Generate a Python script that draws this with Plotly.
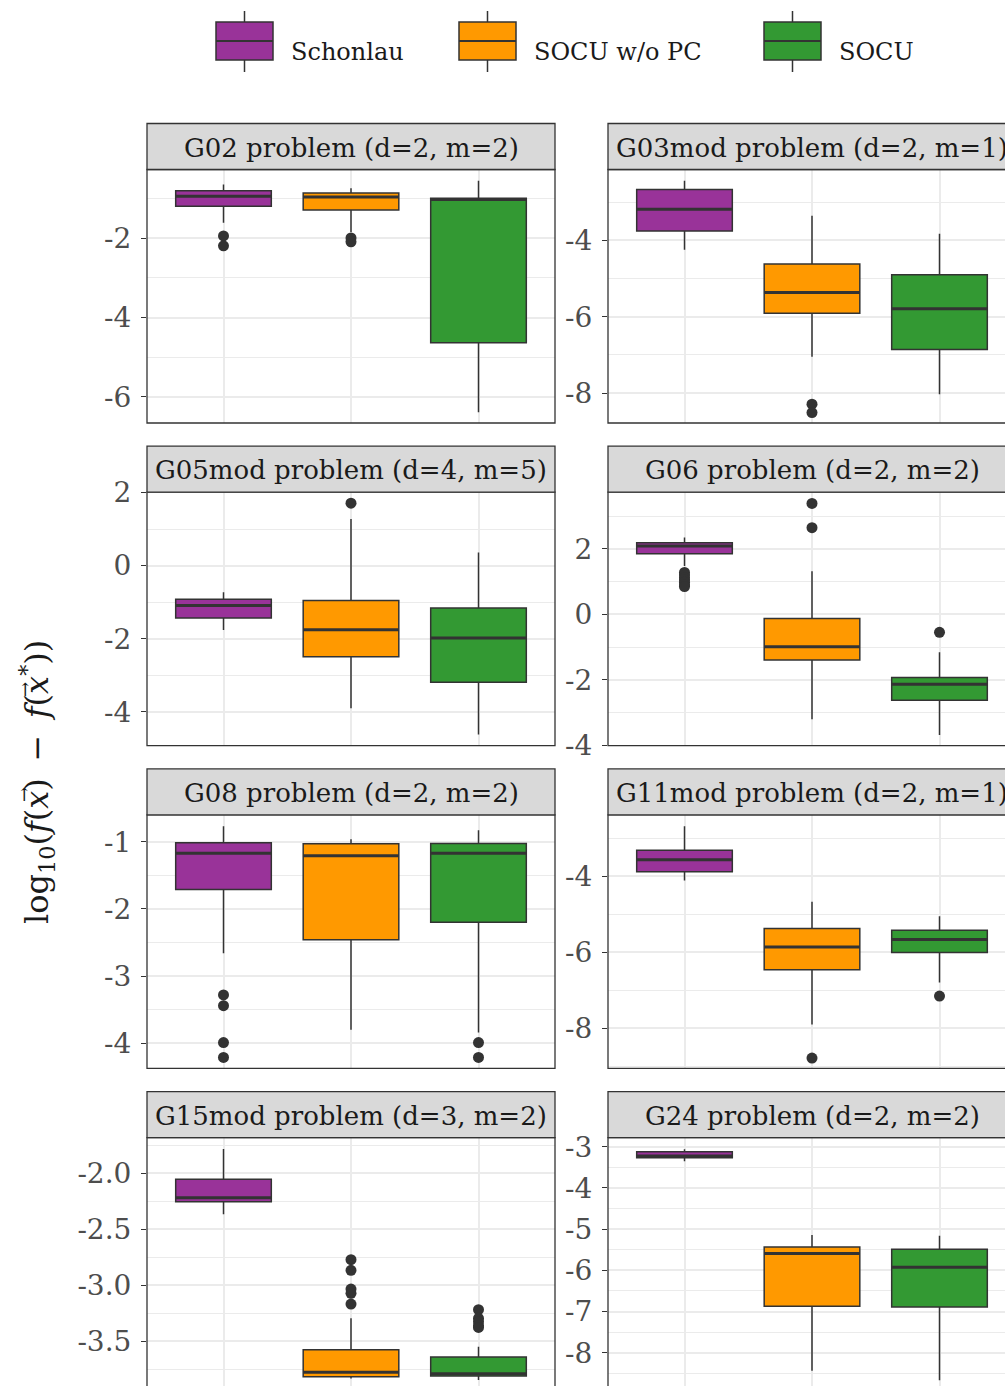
import plotly.graph_objects as go

# ---------------- data ----------------
METHODS = ["Schonlau", "SOCU w/o PC", "SOCU"]
COLORS = ["#993399", "#FF9900", "#339933"]

PROBLEMS = [
    "G02 problem (d=2, m=2)",
    "G03mod problem (d=2, m=1)",
    "G05mod problem (d=4, m=5)",
    "G06 problem (d=2, m=2)",
    "G08 problem (d=2, m=2)",
    "G11mod problem (d=2, m=1)",
    "G15mod problem (d=3, m=2)",
    "G24 problem (d=2, m=2)",
]

# per problem: [Schonlau, SOCU w/o PC, SOCU]
LOWER = [
    [-1.61, -1.84, -6.39],
    [-4.25, -7.05, -8.03],
    [-1.76, -3.90, -4.62],
    [1.48, -3.21, -3.69],
    [-2.66, -3.80, -3.84],
    [-4.12, -7.91, -6.80],
    [-2.367, -3.834, -3.849],
    [-3.354, -8.437, -8.67],
]
Q1 = [
    [-1.19, -1.285, -4.64],
    [-3.76, -5.91, -6.86],
    [-1.43, -2.49, -3.19],
    [1.85, -1.40, -2.63],
    [-1.71, -2.46, -2.20],
    [-3.89, -6.47, -6.01],
    [-2.254, -3.82, -3.813],
    [-3.267, -6.874, -6.89],
]
MEDIAN = [
    [-0.94, -0.957, -1.02],
    [-3.19, -5.37, -5.79],
    [-1.09, -1.75, -1.98],
    [2.09, -0.99, -2.14],
    [-1.17, -1.21, -1.17],
    [-3.57, -5.87, -5.67],
    [-2.218, -3.78, -3.793],
    [-3.226, -5.59, -5.927],
]
Q3 = [
    [-0.80, -0.856, -0.99],
    [-2.67, -4.62, -4.90],
    [-0.92, -0.95, -1.16],
    [2.19, -0.13, -1.93],
    [-1.015, -1.03, -1.025],
    [-3.32, -5.38, -5.43],
    [-2.054, -3.578, -3.643],
    [-3.12, -5.435, -5.49],
]
UPPER = [
    [-0.64, -0.737, -0.545],
    [-2.44, -3.36, -3.83],
    [-0.73, 1.28, 0.36],
    [2.35, 1.32, -1.16],
    [-0.77, -0.965, -0.83],
    [-2.69, -4.68, -5.06],
    [-1.783, -3.297, -3.551],
    [-3.063, -5.143, -5.16],
]
OUTLIERS = [
    [[-1.94, -2.19], [-1.99, -2.09], []],
    [[], [-8.29, -8.51], []],
    [[], [1.71], []],
    [[1.28, 1.20, 1.12, 1.05, 0.98, 0.90, 0.85], [3.39, 2.65], [-0.55]],
    [[-3.28, -3.44, -3.99, -4.21], [], [-3.99, -4.21]],
    [[], [-8.79], [-7.16]],
    [[], [-2.773, -2.868, -3.035, -3.073, -3.169], [-3.22, -3.297, -3.327, -3.363, -3.378]],
    [[], [], []],
]

# axis limits (visible part of each panel) and ticks
Y_RANGE = [
    [-6.664, -0.263],
    [-8.783, -2.147],
    [-4.925, 2.01],
    [-4.018, 3.734],
    [-4.374, -0.601],
    [-9.063, -2.392],
    [-3.902, -1.681],
    [-8.808, -2.779],
]
Y_TICKS = [
    [-6, -4, -2],
    [-8, -6, -4],
    [-4, -2, 0, 2],
    [-4, -2, 0, 2],
    [-4, -3, -2, -1],
    [-8, -6, -4],
    [-3.5, -3.0, -2.5, -2.0],
    [-8, -7, -6, -5, -4, -3],
]
Y_TICKTEXT = [
    ["-6", "-4", "-2"],
    ["-8", "-6", "-4"],
    ["-4", "-2", "0", "2"],
    ["-4", "-2", "0", "2"],
    ["-4", "-3", "-2", "-1"],
    ["-8", "-6", "-4"],
    ["-3.5", "-3.0", "-2.5", "-2.0"],
    ["-8", "-7", "-6", "-5", "-4", "-3"],
]
Y_MINOR = [
    [-5, -3, -1],
    [-7, -5, -3],
    [-3, -1, 1],
    [-3, -1, 1, 3],
    [-3.5, -2.5, -1.5],
    [-9, -7, -5, -3],
    [-3.75, -3.25, -2.75, -2.25, -1.75],
    [-8.5, -7.5, -6.5, -5.5, -4.5, -3.5],
]

# ---------------- layout geometry (px) ----------------
W, H = 1005, 1386
COL_LEFT = [147, 608]
PANEL_W = 408
ROW_STRIP_TOP = [123.5, 446.2, 768.9, 1091.6]
STRIP_H = 46
PANEL_H = 253.5
X_LO, X_HI = 0.4, 3.6
BOX_W = 0.75

SERIF = "DejaVu Serif"
DARK = "#333333"
GRID = "#EBEBEB"


def px_x(p):
    return p / W


def px_y(p):
    return 1 - p / H


fig = go.Figure()
shapes = []
annotations = []
layout_axes = {}

for i, prob in enumerate(PROBLEMS):
    row, col = divmod(i, 2)
    n = i + 1
    xa = "x" if n == 1 else f"x{n}"
    ya = "y" if n == 1 else f"y{n}"
    left = COL_LEFT[col]
    right = left + PANEL_W
    strip_top = ROW_STRIP_TOP[row]
    top = strip_top + STRIP_H
    bottom = top + PANEL_H

    vis_right = min(right, W)
    x_hi = X_LO + (X_HI - X_LO) * (vis_right - left) / PANEL_W
    vis_bottom = min(bottom, H)

    layout_axes["xaxis" if n == 1 else f"xaxis{n}"] = dict(
        domain=[px_x(left), px_x(vis_right)],
        range=[X_LO, x_hi],
        anchor=ya,
        automargin=False,
        tickmode="array",
        tickvals=[1, 2, 3],
        showticklabels=False,
        ticks="",
        showgrid=True,
        gridcolor=GRID,
        gridwidth=1.5,
        zeroline=False,
        showline=False,
    )
    layout_axes["yaxis" if n == 1 else f"yaxis{n}"] = dict(
        domain=[max(0.0, px_y(vis_bottom)), px_y(top)],
        range=Y_RANGE[i],
        anchor=xa,
        automargin=False,
        tickmode="array",
        tickvals=Y_TICKS[i],
        ticktext=Y_TICKTEXT[i],
        ticks="outside",
        ticklen=5,
        tickwidth=1.2,
        tickcolor=DARK,
        ticklabelstandoff=4,
        tickfont=dict(family=SERIF, size=28, color="#4D4D4D"),
        showgrid=True,
        gridcolor=GRID,
        gridwidth=1.5,
        minor=dict(tickmode="array", tickvals=Y_MINOR[i], showgrid=True,
                   gridcolor=GRID, gridwidth=0.8, ticks=""),
        zeroline=False,
        showline=False,
    )

    med_x, med_y, out_x, out_y = [], [], [], []
    for j, m in enumerate(METHODS):
        pos = j + 1
        fig.add_trace(go.Box(
            x=[pos], q1=[Q1[i][j]], median=[MEDIAN[i][j]], q3=[Q3[i][j]],
            lowerfence=[LOWER[i][j]], upperfence=[UPPER[i][j]],
            width=BOX_W, whiskerwidth=0, boxpoints=False,
            fillcolor=COLORS[j], line=dict(color=DARK, width=1.5),
            xaxis=xa, yaxis=ya, showlegend=False, name=m, hoverinfo="skip",
        ))
        med_x += [pos - BOX_W / 2, pos + BOX_W / 2, None]
        med_y += [MEDIAN[i][j], MEDIAN[i][j], None]
        for v in OUTLIERS[i][j]:
            out_x.append(pos)
            out_y.append(v)
    fig.add_trace(go.Scatter(x=med_x, y=med_y, mode="lines",
                             line=dict(color=DARK, width=3), xaxis=xa, yaxis=ya,
                             showlegend=False, hoverinfo="skip"))
    if out_x:
        fig.add_trace(go.Scatter(x=out_x, y=out_y, mode="markers",
                                 marker=dict(color=DARK, size=11), xaxis=xa, yaxis=ya,
                                 showlegend=False, hoverinfo="skip"))

    # panel border
    shapes.append(dict(type="rect", xref="paper", yref="paper",
                       x0=px_x(left), x1=px_x(right), y0=px_y(bottom), y1=px_y(top),
                       line=dict(color=DARK, width=1.3), fillcolor="rgba(0,0,0,0)",
                       layer="above"))
    # strip
    shapes.append(dict(type="rect", xref="paper", yref="paper",
                       x0=px_x(left), x1=px_x(right), y0=px_y(top), y1=px_y(strip_top),
                       line=dict(color=DARK, width=1.3), fillcolor="#D9D9D9",
                       layer="above"))
    annotations.append(dict(text=prob, xref="paper", yref="paper",
                            x=px_x((left + right) / 2), y=px_y(strip_top + STRIP_H / 2 + 1),
                            xanchor="center", yanchor="middle", showarrow=False,
                            font=dict(family=SERIF, size=26, color="#1A1A1A")))

# ---------------- legend (drawn) ----------------
LEG_KEY_X = [216, 459, 764]
LEG_KEY_W = 57
LEG_TOP, LEG_BOT, LEG_MID = 22, 60, 41
LEG_WHISK_TOP, LEG_WHISK_BOT = 11, 72
for j, m in enumerate(METHODS):
    x0 = LEG_KEY_X[j]
    xc = x0 + LEG_KEY_W / 2
    shapes.append(dict(type="line", xref="paper", yref="paper",
                       x0=px_x(xc), x1=px_x(xc), y0=px_y(LEG_WHISK_TOP), y1=px_y(LEG_WHISK_BOT),
                       line=dict(color=DARK, width=1.5)))
    shapes.append(dict(type="rect", xref="paper", yref="paper",
                       x0=px_x(x0), x1=px_x(x0 + LEG_KEY_W), y0=px_y(LEG_BOT), y1=px_y(LEG_TOP),
                       line=dict(color=DARK, width=1.5), fillcolor=COLORS[j]))
    shapes.append(dict(type="line", xref="paper", yref="paper",
                       x0=px_x(x0), x1=px_x(x0 + LEG_KEY_W), y0=px_y(LEG_MID), y1=px_y(LEG_MID),
                       line=dict(color=DARK, width=2)))
    annotations.append(dict(text=m, xref="paper", yref="paper",
                            x=px_x(x0 + LEG_KEY_W + 16), y=px_y(52),
                            xanchor="left", yanchor="middle", showarrow=False,
                            font=dict(family=SERIF, size=24, color="#1A1A1A")))

# ---------------- y-axis title ----------------
TITLE_CX, TITLE_CY = 37, 782
annotations.append(dict(
    text="log<sub>10</sub>(<i>f</i>(<i>x</i>) \u2009\u2212\u2009 <i>f</i>(<i>x</i><sup>*</sup>))",
    xref="paper", yref="paper", x=px_x(TITLE_CX), y=px_y(TITLE_CY),
    xanchor="center", yanchor="middle", textangle=-90, showarrow=False,
    font=dict(family=SERIF, size=32, color="#1A1A1A")))
# vector arrows over the two x's
for ay in (795, 690):
    annotations.append(dict(
        text="\u2192", xref="paper", yref="paper", x=px_x(24), y=px_y(ay),
        xanchor="center", yanchor="middle", textangle=-90, showarrow=False,
        font=dict(family=SERIF, size=18, color="#1A1A1A")))

fig.update_layout(
    width=W, height=H,
    margin=dict(l=0, r=0, t=0, b=0, autoexpand=False),
    paper_bgcolor="white", plot_bgcolor="white",
    showlegend=False,
    boxmode="overlay",
    shapes=shapes,
    annotations=annotations,
    **layout_axes,
)

fig.write_html("out.html")
